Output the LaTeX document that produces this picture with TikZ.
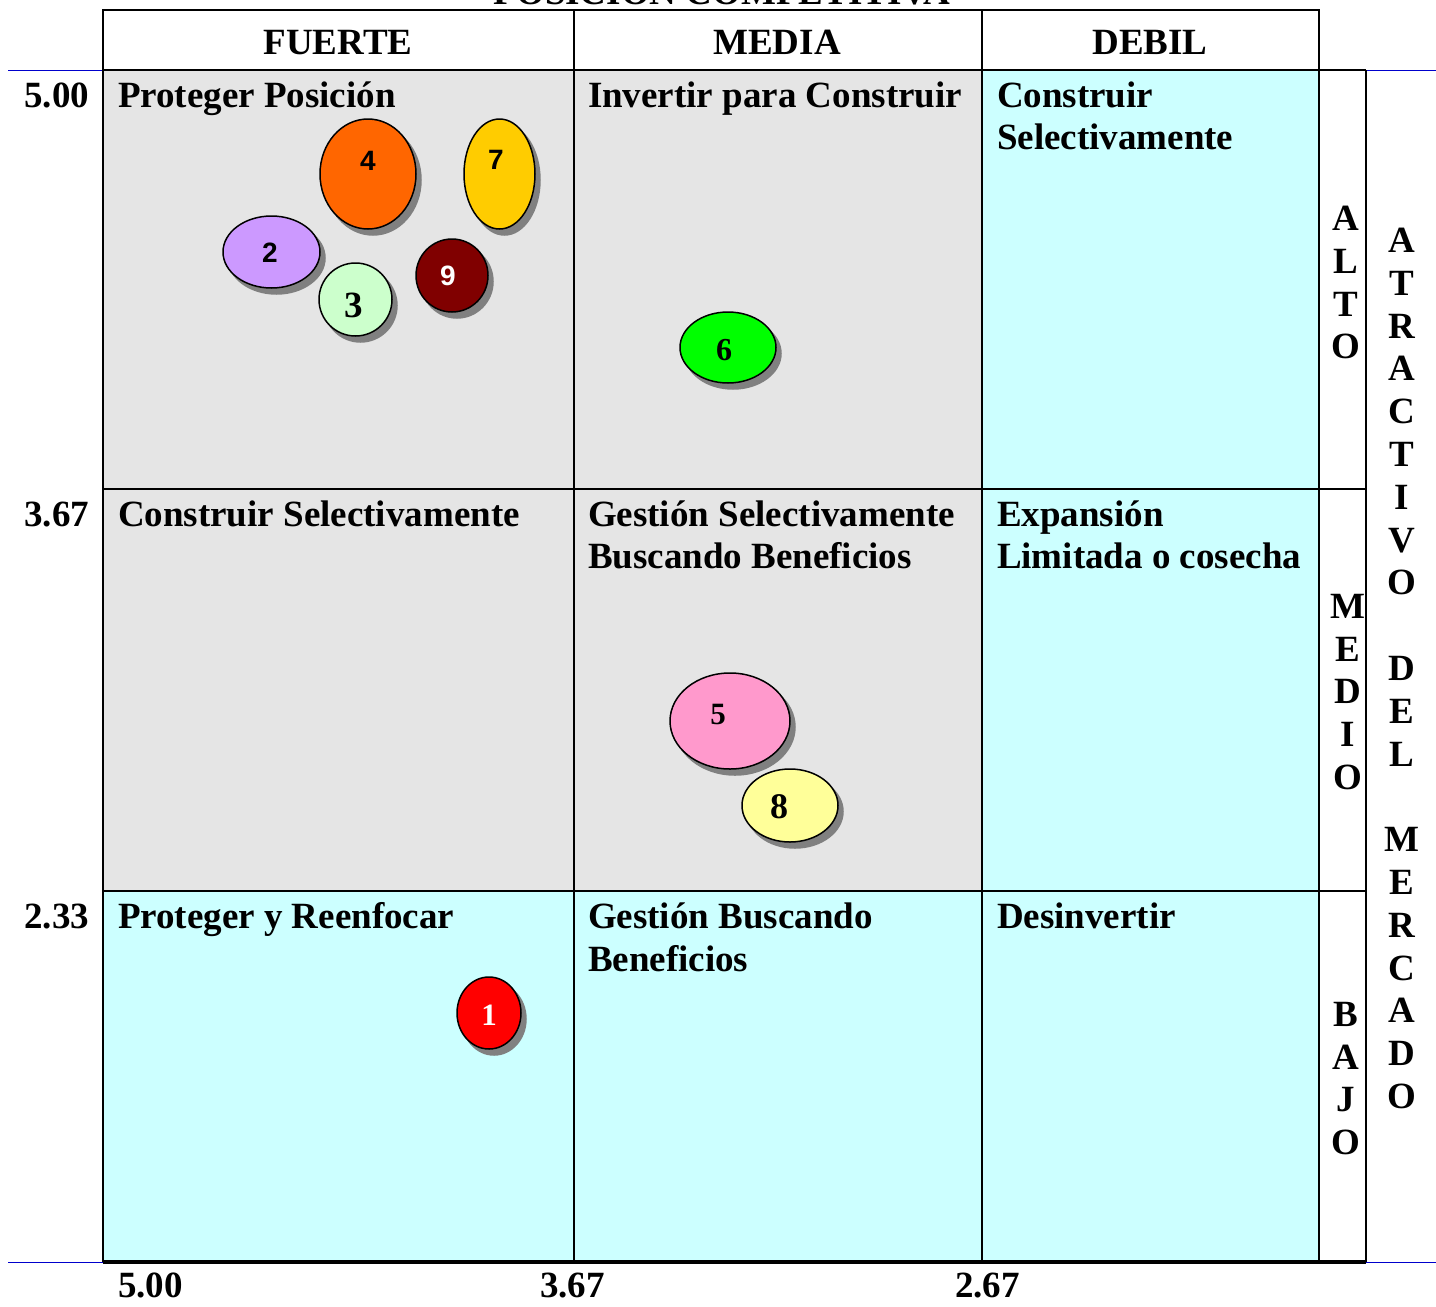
\documentclass[tikz,border=0pt]{standalone}
\usepackage{fontspec}
\setmainfont{Liberation Serif}
\newfontfamily\arialf{Liberation Sans}
\usetikzlibrary{shapes.geometric,shadows}
\definecolor{cellgray}{HTML}{E5E5E5}
\definecolor{cellcyan}{HTML}{CCFFFF}
\definecolor{axisblue}{HTML}{0000CC}
\definecolor{shadowgray}{HTML}{808080}
\definecolor{cOrange}{HTML}{FF6600}
\definecolor{cGold}{HTML}{FFCC00}
\definecolor{cLav}{HTML}{CC99FF}
\definecolor{cMint}{HTML}{CCFFCC}
\definecolor{cMaroon}{HTML}{800000}
\definecolor{cGreen}{HTML}{00FF00}
\definecolor{cPink}{HTML}{FF99CC}
\definecolor{cLemon}{HTML}{FFFF99}
\definecolor{cRed}{HTML}{FF0000}
\begin{document}
\begin{tikzpicture}[x=1pt,y=-1pt,
  txt/.style={font=\fontsize{37}{42.8}\selectfont\bfseries, inner sep=0pt, outer sep=0pt},
  celltxt/.style={txt, anchor=base west},
  numl/.style={txt, anchor=base east},
  numb/.style={txt, anchor=base west},
  headtxt/.style={txt, anchor=base},
  vert/.style={txt, align=center, anchor=north},
  gridline/.style={line width=1.5pt, black},
  blueline/.style={line width=1pt, axisblue},
  bubble/.style={ellipse, draw=black, line width=1.5pt, inner sep=0pt, outer sep=0pt,
     general shadow={fill=shadowgray, draw=shadowgray, shadow xshift=5pt, shadow yshift=-6pt}},
  snum/.style={font=\arialf\fontsize{28}{28}\selectfont\bfseries, inner sep=0pt},
  rnum/.style={font=\fontsize{#1}{#1}\selectfont\bfseries, inner sep=0pt},
  rnum/.default=33
]
\useasboundingbox (0,0) rectangle (1436,1307);
\clip (0,0) rectangle (1436,1307);

% cell fills
\fill[cellgray] (103,70) rectangle (982,891);
\fill[cellcyan] (982,70) rectangle (1319,891);
\fill[cellcyan] (103,891) rectangle (1319,1262);

% blue axis lines
\draw[blueline] (8,70) -- (103,70);
\draw[blueline] (1366,70) -- (1436,70);
\draw[blueline] (8,1262) -- (1436,1262);

% grid
\draw[gridline] (103,10) rectangle (1319,70);
\draw[gridline] (103,10) -- (103,1262);
\draw[gridline] (574,10) -- (574,1262);
\draw[gridline] (982,10) -- (982,1262);
\draw[gridline] (1319,10) -- (1319,1262);
\draw[gridline] (1366,70) -- (1366,1262);
\draw[gridline] (103,70) -- (1366,70);
\draw[gridline] (103,489) -- (1366,489);
\draw[gridline] (103,891) -- (1366,891);
\draw[line width=3.5pt, black] (103,1262) -- (1366,1262);

% title (cut off at top, as in the reference)
\node[headtxt] (title) at (722,4) {POSICION COMPETITIVA};

% headers
\node[headtxt] (hF) at (338,54) {FUERTE};
\node[headtxt] (hM) at (777,54) {MEDIA};
\node[headtxt] (hD) at (1150,54) {DEBIL};

% left scale
\node[numl] (l500) at (89,107) {5.00};
\node[numl] (l367) at (89,526) {3.67};
\node[numl] (l233) at (89,928) {2.33};

% bottom scale
\node[numb] (b500) at (118,1297) {5.00};
\node[numb] (b367) at (540,1297) {3.67};
\node[numb] (b267) at (955,1297) {2.67};

% cell texts
\node[celltxt] (t11) at (118,107) {Proteger Posición};
\node[celltxt] (t12) at (588,107) {Invertir para Construir};
\node[celltxt] (t13a) at (997,107) {Construir};
\node[celltxt] (t13b) at (997,149) {Selectivamente};
\node[celltxt] (t21) at (118,526) {Construir Selectivamente};
\node[celltxt] (t22a) at (588,526) {Gestión Selectivamente};
\node[celltxt] (t22b) at (588,568) {Buscando Beneficios};
\node[celltxt] (t23a) at (997,526) {Expansión};
\node[celltxt] (t23b) at (997,568) {Limitada o cosecha};
\node[celltxt] (t31) at (118,928) {Proteger y Reenfocar};
\node[celltxt] (t32a) at (588,928) {Gestión Buscando};
\node[celltxt] (t32b) at (588,971) {Beneficios};
\node[celltxt] (t33) at (997,928) {Desinvertir};

% vertical side labels
\node[vert] (alto) at (1346,206) {A\\L\\T\\O};
\node[vert] (medio) at (1348,594) {M\\E\\D\\I\\O};
\node[vert] (bajo) at (1346,1002) {B\\A\\J\\O};
\node[vert] (atr) at (1402,228) {A\\T\\R\\A\\C\\T\\I\\V\\O\\[42.8pt]D\\E\\L\\[42.8pt]M\\E\\R\\C\\A\\D\\O};

% bubbles
\node[bubble, fill=cOrange, minimum width=96pt, minimum height=110pt] (e4) at (368,174) {};
\node[snum] (n4) at (368,161) {4};
\node[bubble, fill=cGold, minimum width=71pt, minimum height=110pt] (e7) at (499.5,174) {};
\node[snum] (n7) at (496,160) {7};
\node[bubble, fill=cLav, minimum width=97pt, minimum height=72pt] (e2) at (271.5,252) {};
\node[snum] (n2) at (270,253) {2};
\node[bubble, fill=cMaroon, minimum width=72pt, minimum height=73pt] (e9) at (452,275.5) {};
\node[snum, text=white] (n9) at (448,276) {9};
\node[bubble, fill=cMint, minimum width=73pt, minimum height=73pt] (e3) at (355.5,299.5) {};
\node[rnum=37] (n3) at (354,305) {3};
\node[bubble, fill=cGreen, minimum width=96pt, minimum height=71pt] (e6) at (728,347.5) {};
\node[rnum=32] (n6) at (724,350) {6};
\node[bubble, fill=cPink, minimum width=120pt, minimum height=96pt] (e5) at (730,721) {};
\node[rnum=31] (n5) at (718,714) {5};
\node[bubble, fill=cLemon, minimum width=96pt, minimum height=73pt] (e8) at (790,805.5) {};
\node[rnum=36] (n8) at (779,807) {8};
\node[bubble, fill=cRed, minimum width=64pt, minimum height=72pt] (e1) at (489,1013) {};
\node[rnum=31, text=white] (n1) at (489,1015) {1};
\end{tikzpicture}
\end{document}
